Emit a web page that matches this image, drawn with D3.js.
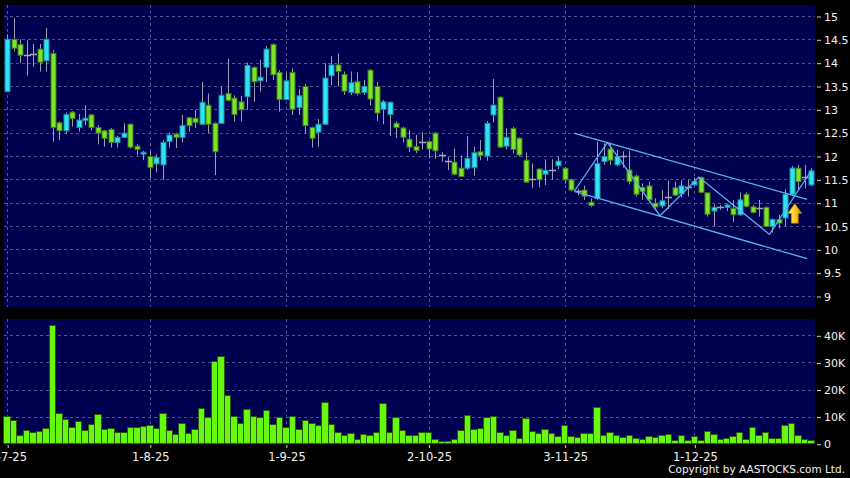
<!DOCTYPE html>
<html>
<head>
<meta charset="utf-8">
<style>
  html, body { margin: 0; padding: 0; background: #000; }
  svg { display: block; }
  text { font-family: 'DejaVu Sans', sans-serif; }
</style>
</head>
<body>
<svg id="chart"></svg>
<script src="https://d3js.org/d3.v7.min.js"></script>
<script>
const width = 850;
const height = 478;

// daily OHLC, one entry per trading day (Jul-Dec 2025)
const openP = [13.38,14.50,14.39,14.16,14.18,14.29,14.04,14.20,12.71,12.54,
  12.94,12.61,12.76,12.88,12.61,12.54,12.57,12.29,12.40,12.68,
  12.21,12.04,11.99,11.83,11.81,12.31,12.47,12.40,12.82,12.81,
  12.68,13.09,12.70,12.70,13.34,13.24,13.16,13.27,13.90,13.61,
  13.90,14.39,13.79,13.21,13.79,13.04,13.49,12.61,12.51,12.68,
  13.72,13.95,13.75,13.36,13.59,13.36,13.84,13.49,13.00,12.89,
  12.70,12.60,12.36,12.20,12.31,12.31,12.49,12.02,11.89,11.87,
  11.74,11.74,11.75,12.09,12.00,12.88,13.26,12.21,12.59,12.38,
  11.91,11.50,11.72,11.61,11.70,11.79,11.74,11.49,11.25,11.27,
  11.01,11.09,11.88,12.15,11.81,11.99,11.70,11.57,11.33,11.36,
  10.99,10.93,11.13,11.32,11.19,11.34,11.38,11.54,11.21,10.82,
  10.91,10.90,10.88,10.74,11.18,10.91,10.88,10.90,10.49,10.64,
  10.67,11.18,11.74,11.55,11.38];
const highP = [14.61,14.95,14.50,14.48,14.40,14.40,14.74,14.27,12.74,12.93,
  12.96,12.90,13.09,12.90,12.66,12.56,12.60,12.43,12.70,12.70,
  12.25,12.11,12.11,12.04,12.34,12.50,12.50,12.88,12.84,12.99,
  13.59,13.34,12.72,13.49,14.09,13.30,13.29,14.00,13.92,14.06,
  14.36,14.42,13.84,13.77,13.88,13.43,13.55,12.63,12.79,13.99,
  14.14,14.20,13.81,13.81,13.79,13.63,13.86,13.59,13.20,13.17,
  12.74,12.63,12.56,12.45,12.51,12.33,12.51,12.09,11.97,12.16,
  12.01,12.43,12.20,12.34,12.75,13.65,13.28,12.59,12.62,12.40,
  12.07,11.84,11.74,11.93,11.93,11.99,11.76,11.52,11.30,11.36,
  11.09,12.31,12.27,12.29,12.13,12.10,12.11,11.60,11.41,11.45,
  11.09,11.27,11.47,11.45,11.48,11.49,11.54,11.56,11.22,10.96,
  10.95,10.98,11.06,11.22,11.22,10.95,11.06,10.92,10.66,10.74,
  11.29,11.79,11.81,11.81,11.74];
const lowP = [13.38,14.24,13.99,13.72,13.91,13.81,13.81,12.31,12.34,12.47,
  12.63,12.52,12.66,12.54,12.25,12.20,12.18,12.18,12.38,12.16,
  12.01,11.91,11.52,11.65,11.49,12.18,12.17,12.29,12.52,12.60,
  12.66,12.49,11.59,12.70,13.17,12.74,12.74,12.99,13.16,13.38,
  13.58,13.63,12.95,13.21,12.88,12.88,12.49,12.18,12.20,12.66,
  13.52,13.49,13.31,13.31,13.30,13.31,13.08,12.75,12.68,12.43,
  12.38,12.29,12.09,12.06,12.14,11.95,11.94,11.88,11.70,11.59,
  11.55,11.70,11.58,11.91,11.90,12.72,12.17,12.14,12.06,11.99,
  11.42,11.31,11.33,11.38,11.49,11.72,11.41,11.24,11.16,11.06,
  10.91,11.06,11.81,11.81,11.78,11.75,11.39,11.13,11.06,11.00,
  10.84,10.88,10.86,11.14,11.11,11.13,11.36,11.20,10.70,10.49,
  10.85,10.82,10.59,10.72,10.90,10.77,10.70,10.49,10.36,10.45,
  10.49,11.15,11.27,11.30,11.36];
const closeP = [14.50,14.31,14.16,14.16,14.18,14.01,14.50,12.61,12.54,12.89,
  12.80,12.77,12.81,12.61,12.49,12.38,12.29,12.40,12.49,12.19,
  12.14,12.08,11.75,11.97,12.29,12.45,12.40,12.65,12.65,12.72,
  13.15,12.68,12.09,13.30,13.19,12.89,12.99,13.94,13.59,13.69,
  14.29,13.74,13.21,13.61,13.00,13.29,12.65,12.38,12.68,13.67,
  13.95,13.81,13.39,13.57,13.34,13.49,13.22,12.92,13.16,13.15,
  12.61,12.40,12.19,12.12,12.31,12.15,12.11,12.02,11.89,11.61,
  11.56,11.95,12.07,12.01,12.70,13.09,12.19,12.40,12.14,12.02,
  11.44,11.50,11.49,11.69,11.70,11.89,11.49,11.27,11.25,11.14,
  10.94,11.84,11.99,11.91,11.99,11.99,11.45,11.18,11.24,11.06,
  10.91,11.04,11.13,11.16,11.36,11.34,11.46,11.22,10.75,10.90,
  10.91,10.95,10.74,11.06,10.92,10.79,10.88,10.49,10.64,10.56,
  11.18,11.74,11.45,11.55,11.68];
// volume in thousands of shares
const volumeK = [10.2,8.7,3.2,4.7,4.1,4.4,5.7,43.8,11.2,9.0,
  6.0,8.1,4.8,7.2,10.8,5.3,5.7,4.2,4.1,6.0,
  5.9,6.2,6.6,5.7,11.0,4.7,3.5,7.6,3.8,5.1,
  12.9,9.5,30.3,32.0,17.7,10.2,7.5,12.8,10.0,9.7,
  12.1,7.0,9.6,6.0,10.1,5.2,8.4,7.4,6.8,15.3,
  7.2,4.1,3.2,3.9,1.6,3.3,2.9,4.3,14.9,4.2,
  9.6,4.7,3.0,2.9,4.2,4.1,1.4,0.8,0.7,1.6,
  4.7,10.3,5.1,5.5,9.6,10.2,4.1,2.9,4.7,1.8,
  9.4,4.5,3.9,5.3,3.9,2.7,6.9,2.6,2.2,3.6,
  3.6,13.2,3.2,4.3,2.9,2.4,2.9,2.0,1.6,2.5,
  2.4,3.2,3.3,1.3,3.2,1.3,2.5,1.0,4.4,3.5,
  1.5,2.1,2.5,4.3,1.7,5.9,3.2,4.2,2.1,2.1,
  6.9,7.4,3.2,1.6,1.0];

const xTickIdx = [0, 22, 43, 65, 86, 106];
const xTickLabels = ['1-7-25', '1-8-25', '1-9-25', '2-10-25', '3-11-25', '1-12-25'];
const priceTicks = [9, 9.5, 10, 10.5, 11, 11.5, 12, 12.5, 13, 13.5, 14, 14.5, 15];
const volTicks = [0, 10, 20, 30, 40];
const volTickLabels = ['0', '10K', '20K', '30K', '40K'];

// drawn trend channel: [day index, price]
const channelUpper = [[87.4, 12.49], [123.4, 11.07]];
const channelLower = [[87.5, 11.24], [123.4, 9.80]];
const zigzag = [[87.5, 11.25], [92.6, 12.29], [100.7, 10.72], [106.7, 11.55], [117.6, 10.32], [124.1, 11.70]];
const signalIdx = 121.5;
const signalTop = 10.98;
const signalBottom = 10.56;

const svg = d3.select('#chart').attr('width', width).attr('height', height);
svg.append('rect').attr('width', width).attr('height', height).attr('fill', '#000');

const pricePanel = { x0: 4, x1: 815, y0: 5, y1: 307 };
const volPanel = { x0: 4, x1: 815, y0: 319, y1: 444 };

const n = closeP.length;
const x = d3.scaleLinear().domain([0, n - 1]).range([7.2, 811]);
const y = d3.scaleLinear().domain([9, 15]).range([296, 16]);
const yv = d3.scaleLinear().domain([0, 40]).range([443.7, 335.3]);
const step = x(1) - x(0);
const px = v => Math.round(v) + 0.5;

[pricePanel, volPanel].forEach(p => {
    svg.append('rect')
        .attr('x', p.x0).attr('y', p.y0)
        .attr('width', p.x1 - p.x0).attr('height', p.y1 - p.y0)
        .attr('fill', '#000050');
});

const grid = svg.append('g')
    .attr('stroke', '#51518c')
    .attr('stroke-width', 1)
    .attr('stroke-dasharray', '3,3');

grid.selectAll('.hp').data(priceTicks).enter().append('line')
    .attr('x1', pricePanel.x0).attr('x2', pricePanel.x1)
    .attr('y1', d => px(y(d))).attr('y2', d => px(y(d)));

grid.selectAll('.hv').data(volTicks.slice(1)).enter().append('line')
    .attr('x1', volPanel.x0).attr('x2', volPanel.x1)
    .attr('y1', d => px(yv(d))).attr('y2', d => px(yv(d)));

[pricePanel, volPanel].forEach(p => {
    grid.append('g').selectAll('line').data(xTickIdx).enter().append('line')
        .attr('x1', d => px(x(d))).attr('x2', d => px(x(d)))
        .attr('y1', p.y0).attr('y2', p.y1);
});

// candles
const idx = d3.range(n);
const candles = svg.append('g');
candles.selectAll('.wick').data(idx).enter().append('line')
    .attr('x1', i => px(x(i))).attr('x2', i => px(x(i)))
    .attr('y1', i => y(highP[i])).attr('y2', i => y(lowP[i]))
    .attr('stroke', '#9d9db0').attr('stroke-width', 1);

candles.selectAll('.doji').data(idx.filter(i => openP[i] === closeP[i])).enter().append('line')
    .attr('x1', i => px(x(i)) - 3.5).attr('x2', i => px(x(i)) + 3.5)
    .attr('y1', i => px(y(openP[i]))).attr('y2', i => px(y(openP[i])))
    .attr('stroke', '#a9a9b4').attr('stroke-width', 1.5);

candles.selectAll('.body').data(idx.filter(i => openP[i] !== closeP[i])).enter().append('rect')
    .attr('x', i => px(x(i)) - 2.5)
    .attr('y', i => y(Math.max(openP[i], closeP[i])))
    .attr('width', 5)
    .attr('height', i => Math.max(1.5, Math.abs(y(openP[i]) - y(closeP[i]))))
    .attr('fill', i => closeP[i] > openP[i] ? '#30e3f2' : '#7ce42a')
    .attr('stroke', i => closeP[i] > openP[i] ? '#1a8fa3' : '#3f7d14')
    .attr('stroke-width', 1);

// channel + zigzag drawing
const line = d3.line().x(d => x(d[0])).y(d => y(d[1]));
const overlay = svg.append('g')
    .attr('fill', 'none')
    .attr('stroke', '#5bb3ec')
    .attr('stroke-width', 1.3);
[channelUpper, channelLower, zigzag].forEach(pts => overlay.append('path').attr('d', line(pts)));

// signal arrow
const defs = svg.append('defs');
const grad = defs.append('linearGradient').attr('id', 'arrowGrad')
    .attr('x1', '0%').attr('x2', '100%').attr('y1', '0%').attr('y2', '0%');
grad.append('stop').attr('offset', '0%').attr('stop-color', '#fff27a');
grad.append('stop').attr('offset', '55%').attr('stop-color', '#ffc61a');
grad.append('stop').attr('offset', '100%').attr('stop-color', '#d98800');

const ax = x(signalIdx);
const aTop = y(signalTop);
const aBot = y(signalBottom);
const headH = (aBot - aTop) * 0.5;
svg.append('path')
    .attr('d', d3.line()([
        [ax, aTop], [ax + 7, aTop + headH], [ax + 3.5, aTop + headH],
        [ax + 3.5, aBot], [ax - 3.5, aBot], [ax - 3.5, aTop + headH],
        [ax - 7, aTop + headH]
    ]) + 'Z')
    .attr('fill', 'url(#arrowGrad)')
    .attr('stroke', '#b87400')
    .attr('stroke-width', 0.6);

// volume bars
svg.append('g').selectAll('rect').data(idx).enter().append('rect')
    .attr('x', i => x(i) - step / 2)
    .attr('y', i => yv(volumeK[i]))
    .attr('width', step)
    .attr('height', i => yv(0) - yv(volumeK[i]))
    .attr('fill', '#66f70c')
    .attr('stroke', '#245c05')
    .attr('stroke-width', 1)
    .attr('shape-rendering', 'crispEdges');

// axes
function styleAxis(g, size) {
    g.select('.domain').remove();
    g.selectAll('.tick line').attr('stroke', '#d0d0d0');
    g.selectAll('.tick text').attr('fill', '#f2f2f2').attr('font-size', size)
        .attr('font-family', 'DejaVu Sans, sans-serif');
}

svg.append('g')
    .attr('transform', 'translate(817,0.5)')
    .call(d3.axisRight(y).tickValues(priceTicks).tickSize(4).tickPadding(3).tickFormat(d3.format('~g')))
    .call(g => styleAxis(g, 11));

svg.append('g')
    .attr('transform', 'translate(817,0.5)')
    .call(d3.axisRight(yv).tickValues(volTicks).tickSize(4).tickPadding(3).tickFormat((d, i) => volTickLabels[i]))
    .call(g => styleAxis(g, 11));

svg.append('g')
    .attr('transform', 'translate(0.5,445)')
    .call(d3.axisBottom(x).tickValues(xTickIdx).tickSize(3).tickPadding(5).tickFormat((d, i) => xTickLabels[i]))
    .call(g => styleAxis(g, 11.5));

svg.append('text')
    .attr('x', 845).attr('y', 473)
    .attr('text-anchor', 'end')
    .attr('font-size', 10.5)
    .attr('font-family', "'DejaVu Sans Condensed', 'DejaVu Sans', sans-serif")
    .attr('fill', '#f2f2f2')
    .text('Copyright by AASTOCKS.com Ltd.');
</script>
</body>
</html>
